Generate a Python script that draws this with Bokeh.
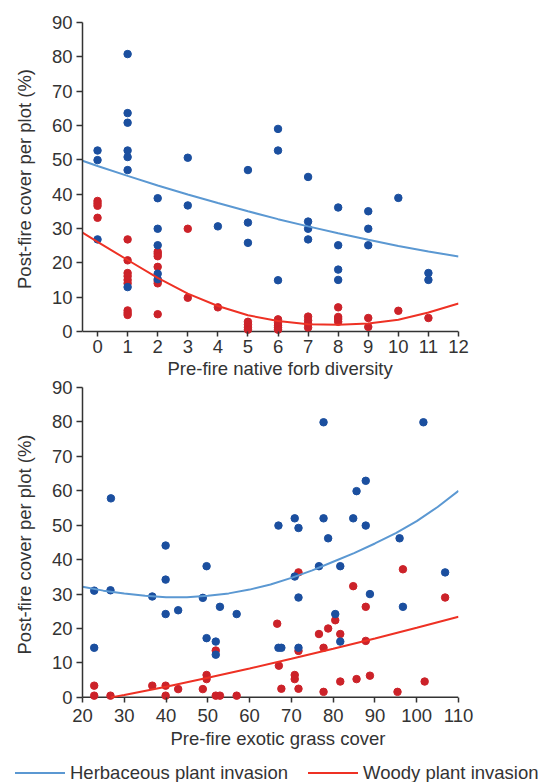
from bokeh.plotting import figure
from bokeh.models import Range1d, FixedTicker, Title, Div
from bokeh.layouts import column
from bokeh.embed import file_html
from bokeh.resources import INLINE

# ---------------- data: panel 1 (native forb diversity) ----------------
forb_herb_x = [0, 0, 0,
               1, 1, 1, 1, 1, 1, 1,
               2, 2, 2, 2, 2,
               3, 3, 4, 5, 5, 5, 6, 6, 6,
               7, 7, 7, 7, 8, 8, 8, 8, 9, 9, 9, 10, 11, 11]
forb_herb_y = [52.7, 49.9, 26.8,
               80.8, 63.6, 60.8, 52.7, 50.8, 47.0, 12.9,
               38.8, 29.9, 25.1, 16.8, 15.2,
               50.6, 36.7, 30.6, 47.0, 31.7, 25.8, 59.0, 52.7, 14.9,
               45.0, 32.0, 29.9, 26.8, 36.1, 25.1, 18.0, 15.0, 35.0, 29.9, 25.1, 38.9, 17.0, 15.0]

forb_woody_x = [0, 0, 0, 0,
                1, 1, 1, 1, 1, 1, 1, 1, 1,
                2, 2, 2, 2, 2, 2, 2,
                3, 3, 4, 5, 5, 5, 5, 6, 6, 6, 6, 6,
                7, 7, 7, 7, 8, 8, 8, 8, 9, 9, 10, 11]
forb_woody_y = [38.0, 37.3, 36.6, 33.1,
                26.8, 20.7, 17.0, 16.1, 15.0, 14.0, 6.1, 5.4, 4.8,
                23.2, 22.6, 21.9, 18.8, 14.7, 14.0, 5.0,
                29.9, 9.8, 7.0, 2.8, 2.0, 1.2, 0.5, 3.5, 2.5, 1.8, 1.1, 0.5,
                4.3, 3.2, 2.2, 1.1, 7.0, 4.2, 3.6, 2.8, 3.9, 1.3, 6.0, 3.9]

forb_fit_x = [-0.5, 0, 1, 2, 3, 4, 5, 6, 7, 8, 9, 10, 11, 12]
forb_herb_fit = [49.7, 48.2, 45.3, 42.5, 39.9, 37.4, 35.0, 32.7, 30.6, 28.6, 26.7, 24.9, 23.3, 21.8]
forb_woody_fit = [28.8, 26.1, 20.8, 15.6, 11.0, 7.4, 4.7, 3.0, 2.1, 1.9, 2.3, 3.4, 5.5, 8.1]

# ---------------- data: panel 2 (exotic grass cover) ----------------
grass_herb_x = [26.8, 39.9, 49.7, 66.9, 77.7, 101.6, 87.8, 85.6, 70.8, 77.7,
                84.8, 71.7, 87.8, 78.8, 95.9, 76.6, 81.7, 106.8, 22.8, 26.7,
                36.7, 39.9, 39.9, 42.9, 48.8, 52.9, 56.9, 49.7, 51.9, 51.9,
                22.8, 66.9, 67.6, 70.8, 88.8, 71.7, 96.7, 80.5, 71.7, 81.7]
grass_herb_y = [57.8, 44.1, 38.1, 49.9, 79.9, 79.9, 62.9, 59.9, 52.0, 52.0,
                52.0, 49.2, 49.9, 46.2, 46.2, 38.1, 38.1, 36.3, 31.0, 31.1,
                29.3, 34.2, 24.2, 25.3, 28.9, 26.3, 24.2, 17.2, 16.2, 12.4,
                14.4, 14.4, 14.4, 35.1, 30.0, 29.0, 26.3, 24.2, 14.4, 16.2]

grass_woody_x = [22.8, 22.8, 26.7, 36.7, 39.9, 39.9, 42.9, 48.8, 49.7, 49.7,
                 51.9, 51.9, 52.9, 56.9, 66.6, 67.0, 67.6, 71.7, 96.7, 84.8,
                 87.8, 106.8, 80.5, 78.8, 76.6, 81.7, 87.8, 77.7, 71.7, 70.8,
                 70.8, 88.8, 81.7, 85.6, 101.9, 71.7, 77.7, 95.4]
grass_woody_y = [3.4, 0.5, 0.5, 3.4, 3.4, 0.5, 2.4, 2.4, 6.5, 5.3,
                 13.6, 0.5, 0.5, 0.5, 21.4, 9.2, 2.5, 36.3, 37.2, 32.3,
                 26.3, 29.0, 22.4, 20.0, 18.4, 18.4, 16.4, 14.4, 13.5, 6.5,
                 5.3, 6.3, 4.6, 5.3, 4.6, 2.5, 1.6, 1.6]

grass_herb_fit_x = [20, 25, 30, 35, 40, 45, 50, 55, 60, 65, 70, 75, 80, 85, 90, 95, 100, 105, 110]
grass_herb_fit = [32.1, 31.0, 30.2, 29.5, 29.1, 29.1, 29.5, 30.2, 31.3, 32.8, 34.7, 36.9, 39.4,
                  41.9, 44.7, 47.7, 51.2, 55.3, 60.0]
grass_woody_fit_x = [26.8, 30, 40, 50, 60, 70, 80, 90, 100, 110]
grass_woody_fit = [0.0, 0.7, 3.1, 5.7, 8.4, 11.2, 14.1, 17.1, 20.2, 23.4]

# ---------------- axes ----------------
y_ticks = [0, 10, 20, 30, 40, 50, 60, 70, 80, 90]
forb_ticks = [0, 1, 2, 3, 4, 5, 6, 7, 8, 9, 10, 11, 12]
grass_ticks = [20, 30, 40, 50, 60, 70, 80, 90, 100, 110]
forb_xlim = (-0.5, 12)
grass_xlim = (20, 110)
y_pad = -1.2

y_label = "Post-fire cover per plot (%)"
forb_label = "Pre-fire native forb diversity"
grass_label = "Pre-fire exotic grass cover"
legend_labels = ["Herbaceous plant invasion", "Woody plant invasion"]

FONT = "Liberation Sans"
FS = "18.5px"
TXT = "#333333"
AXC = "#333333"
BLUE_PT = "#1b4f9f"
RED_PT = "#cc2229"
BLUE_LN = "#5b98d2"
RED_LN = "#ee3124"


def make_title(text, offset, standoff):
    return Title(text=text, align="left", offset=offset, standoff=standoff,
                 text_font=FONT, text_font_size=FS, text_font_style="normal", text_color=TXT)


def make_fig(xlim, xticks, frame_h, mb_top, mb_bottom, tick_standoff, xlabel, label_offset, label_standoff):
    p = figure(output_backend="svg", toolbar_location=None,
               x_range=Range1d(*xlim), y_range=Range1d(y_pad, y_ticks[-1]),
               frame_width=376, frame_height=frame_h,
               min_border_left=82, min_border_right=66,
               min_border_top=mb_top, min_border_bottom=mb_bottom)
    p.grid.visible = False
    p.outline_line_color = None
    p.background_fill_color = "white"

    p.xaxis.ticker = FixedTicker(ticks=xticks)
    p.yaxis.ticker = FixedTicker(ticks=y_ticks)
    for ax in (p.xaxis[0], p.yaxis[0]):
        ax.major_label_text_font = FONT
        ax.major_label_text_font_size = FS
        ax.major_label_text_color = TXT
        ax.major_tick_line_color = AXC
        ax.major_tick_line_width = 1.5
        ax.minor_tick_line_color = None
    p.xaxis.axis_line_color = None
    p.xaxis.major_tick_in = 4
    p.xaxis.major_tick_out = 1
    p.xaxis.major_label_standoff = tick_standoff
    p.yaxis.axis_line_color = AXC
    p.yaxis.axis_line_width = 1.5
    p.yaxis.bounds = (y_ticks[0], y_ticks[-1])
    p.yaxis.major_tick_in = 0
    p.yaxis.major_tick_out = 6
    p.yaxis.major_label_standoff = 4
    p.yaxis.axis_label = y_label
    p.yaxis.axis_label_text_font = FONT
    p.yaxis.axis_label_text_font_size = FS
    p.yaxis.axis_label_text_font_style = "normal"
    p.yaxis.axis_label_text_color = TXT
    p.yaxis.axis_label_standoff = 14

    p.add_layout(make_title(xlabel, label_offset, label_standoff), "below")

    # x axis line at y = 0
    p.segment(x0=[xlim[0]], y0=[y_ticks[0]], x1=[xlim[1]], y1=[y_ticks[0]],
              line_color=AXC, line_width=1.5)
    return p


p1 = make_fig(forb_xlim, forb_ticks, 313, 22, 48, 3, forb_label, 85, 1)
p1.border_fill_color = "white"
p1.scatter(forb_woody_x, forb_woody_y, size=7.5, color=RED_PT)
p1.scatter(forb_herb_x, forb_herb_y, size=7.5, color=BLUE_PT)
p1.line(forb_fit_x, forb_herb_fit, line_color=BLUE_LN, line_width=2)
p1.line(forb_fit_x, forb_woody_fit, line_color=RED_LN, line_width=2)

p2 = make_fig(grass_xlim, grass_ticks, 314, 15, 56, 6, grass_label, 88, 3)
p2.border_fill_alpha = 0
p2.margin = (-11, 0, 0, 0)
p2.scatter(grass_woody_x, grass_woody_y, size=7.5, color=RED_PT)
p2.scatter(grass_herb_x, grass_herb_y, size=7.5, color=BLUE_PT)
p2.line(grass_herb_fit_x, grass_herb_fit, line_color=BLUE_LN, line_width=2)
p2.line(grass_woody_fit_x, grass_woody_fit, line_color=RED_LN, line_width=2)

# legend strip below the lower panel
legend_html = (
    '<div style="position:relative;width:548px;height:25px;white-space:nowrap;'
    f"font-family:'{FONT}';font-size:{FS};line-height:1;color:{TXT};\">"
    f'<span style="position:absolute;left:15px;top:15px;width:50px;border-top:2px solid {BLUE_LN};"></span>'
    f'<span style="position:absolute;left:70px;top:7px;">{legend_labels[0]}</span>'
    f'<span style="position:absolute;left:308px;top:15px;width:50px;border-top:2px solid {RED_LN};"></span>'
    f'<span style="position:absolute;left:363px;top:7px;">{legend_labels[1]}</span>'
    '</div>'
)
legend_div = Div(text=legend_html, width=548, height=25, margin=(0, 0, 0, 0))

layout = column(p1, p2, legend_div, spacing=0)
open("out.html", "w").write(file_html(layout, INLINE))
